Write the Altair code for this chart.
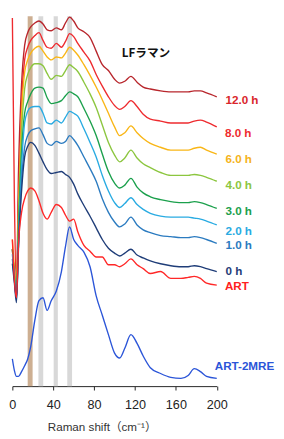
import altair as alt
import pandas as pd

# Raman shift knots (cm^-1)
shift = [0, 2, 4, 6, 9, 12, 15, 18, 22, 26, 30, 34, 38, 43, 48, 52, 56, 60, 64, 70,
         76, 82, 88, 94, 100, 105, 110, 116, 122, 128, 135, 145, 155, 165, 172, 178,
         184, 190, 200]

series_names = ["12.0 h", "8.0 h", "6.0 h", "4.0 h", "3.0 h", "2.0 h", "1.0 h", "0 h", "ART", "ART-2MRE"]

# intensities (arbitrary units, stacked spectra)
i_12h = [141, 116, 101, 221, 311, 351, 364, 370, 374, 376, 373, 367, 366, 369, 367, 374, 380, 376, 369, 365,
         359, 345, 331, 325, 316, 312, 314, 319, 313, 308, 306, 304, 303, 303, 303, 304, 304, 302, 298]
i_8h = [379, 191, 99, 191, 291, 336, 349, 356, 361, 364, 356, 349, 348, 353, 349, 355, 363, 360, 353, 344,
        335, 321, 309, 298, 289, 285, 288, 294, 288, 280, 275, 273, 271, 271, 271, 273, 274, 272, 267]
i_6h = [151, 121, 96, 181, 281, 323, 336, 343, 348, 350, 345, 339, 336, 339, 338, 343, 349, 346, 341, 331,
        320, 308, 295, 281, 267, 258, 261, 268, 261, 255, 250, 246, 243, 243, 243, 245, 246, 243, 239]
i_4h = [141, 116, 93, 171, 261, 306, 321, 328, 332, 332, 330, 322, 316, 320, 319, 325, 331, 328, 324, 313,
        301, 287, 269, 251, 238, 231, 235, 243, 235, 229, 225, 220, 217, 217, 217, 218, 217, 215, 211]
i_3h = [141, 113, 91, 161, 241, 281, 293, 301, 307, 308, 307, 297, 291, 292, 294, 299, 303, 301, 298, 286,
        273, 258, 239, 221, 209, 204, 207, 214, 205, 199, 195, 192, 190, 189, 189, 190, 189, 187, 183]
i_2h = [136, 111, 91, 151, 226, 271, 283, 287, 288, 288, 281, 271, 270, 274, 271, 277, 283, 281, 278, 265,
        251, 236, 217, 201, 189, 184, 188, 194, 187, 182, 178, 175, 174, 174, 174, 173, 172, 170, 166]
i_1h = [131, 109, 89, 141, 211, 246, 258, 263, 265, 266, 259, 250, 248, 252, 250, 252, 258, 254, 248, 236,
        224, 211, 193, 179, 169, 164, 167, 174, 166, 161, 158, 155, 154, 153, 153, 154, 153, 151, 147]
i_0h = [126, 106, 86, 146, 201, 236, 247, 251, 248, 240, 231, 223, 219, 220, 221, 218, 215, 208, 198, 186,
        175, 163, 151, 142, 137, 134, 137, 141, 135, 132, 129, 126, 124, 123, 123, 124, 123, 121, 118]
i_art = [151, 109, 91, 146, 179, 193, 201, 204, 201, 191, 178, 172, 179, 187, 184, 176, 170, 172, 159, 145,
         139, 133, 133, 125, 125, 123, 126, 131, 125, 121, 116, 118, 111, 111, 112, 113, 111, 106, 104]
i_mre = [28, 16, 10, 10, 15, 21, 28, 41, 68, 88, 91, 78, 88, 98, 118, 144, 164, 151, 145, 138,
         123, 93, 73, 53, 34, 29, 39, 53, 44, 31, 19, 13, 9, 8, 11, 18, 15, 10, 8]

all_series = [i_12h, i_8h, i_6h, i_4h, i_3h, i_2h, i_1h, i_0h, i_art, i_mre]

line_colors = ["#b8262c", "#ee2b2f", "#f9b616", "#8cc63f", "#1ba04c", "#29abe2", "#2b7bc0", "#1f3d78",
               "#ff2828", "#2b55d8"]
label_colors = ["#d9252b", "#ee2b2f", "#f5b31a", "#8cc63f", "#1ba04c", "#29abe2", "#2b7bc0", "#1f3d78",
                "#ff2020", "#2b55d8"]

# label anchor positions (data units)
label_x = [208.5, 208, 208.5, 208.5, 208.5, 208.5, 208.5, 208.5, 208, 198]
label_y = [295, 261, 234, 207, 180, 160, 145, 118, 103, 21]

# highlighted bands (cm^-1)
brown_start, brown_end = [15.0], [19.8]
gray_start = [25.5, 40.4, 53.7]
gray_end = [30.2, 44.5, 58.4]

rows = []
for name, vals in zip(series_names, all_series):
    for s, v in zip(shift, vals):
        rows.append({"shift": s, "intensity": v, "series": name})
df = pd.DataFrame(rows)

lab_df = pd.DataFrame({"series": series_names, "lx": label_x, "ly": label_y})
brown_df = pd.DataFrame({"start": brown_start, "end": brown_end})
gray_df = pd.DataFrame({"start": gray_start, "end": gray_end})
title_df = pd.DataFrame({"tx": [107], "ty": [343], "t": ["LFラマン"]})

XTITLE = "Raman shift（cm⁻¹）"
xscale = alt.Scale(domain=[0, 200], nice=False, zero=False)
yscale = alt.Scale(domain=[0, 381], nice=False, zero=False)
W, H = 210.5, 381

xaxis = alt.Axis(values=[0, 40, 80, 120, 160, 200], grid=False, tickSize=4, labelFontSize=13,
                 labelFont="Liberation Sans", labelColor="#222", labelPadding=9,
                 domainColor="#222", tickColor="#222", titleFont="Liberation Sans, Noto Sans CJK JP",
                 titleFontSize=12, titleFontWeight="normal", titleColor="#333",
                 titleX=92, titleY=42, titleBaseline="middle", titleAlign="center", labelFlush=False)

gray = alt.Chart(gray_df).mark_rect(color="#d4d4d4", opacity=0.9).encode(
    x=alt.X("start:Q", scale=xscale, axis=xaxis, title=XTITLE),
    x2="end:Q",
    y=alt.value(0), y2=alt.value(H))

brown = alt.Chart(brown_df).mark_rect(color="#c4a17f", opacity=0.85).encode(
    x=alt.X("start:Q", scale=xscale, title=XTITLE),
    x2="end:Q",
    y=alt.value(0), y2=alt.value(H))

lines = alt.Chart(df).mark_line(interpolate="monotone", strokeWidth=1.4).encode(
    x=alt.X("shift:Q", scale=xscale, title=XTITLE),
    y=alt.Y("intensity:Q", scale=yscale, axis=None),
    color=alt.Color("series:N", scale=alt.Scale(domain=series_names, range=line_colors), legend=None),
    order=alt.Order("shift:Q"))

labels = alt.Chart(lab_df).mark_text(align="left", baseline="middle", fontSize=12, fontWeight="bold",
                                     font="Liberation Sans").encode(
    x=alt.X("lx:Q", scale=xscale, title=XTITLE),
    y=alt.Y("ly:Q", scale=yscale, axis=None),
    text="series:N",
    fill=alt.Fill("series:N", scale=alt.Scale(domain=series_names, range=label_colors), legend=None))

ttl = alt.Chart(title_df).mark_text(align="left", baseline="middle", fontSize=12, fontWeight="bold",
                                    font="Noto Sans CJK JP", color="#111").encode(
    x=alt.X("tx:Q", scale=xscale, title=XTITLE),
    y=alt.Y("ty:Q", scale=yscale, axis=None),
    text="t:N")

chart = alt.layer(gray, brown, lines, labels, ttl).properties(
    width=W, height=H,
    autosize=alt.AutoSizeParams(type="none"),
    padding={"left": 4.5, "top": 2, "right": 61, "bottom": 47},
).configure_view(stroke=None)

chart.save("out.html", embed_options={"renderer": "svg", "actions": False})
